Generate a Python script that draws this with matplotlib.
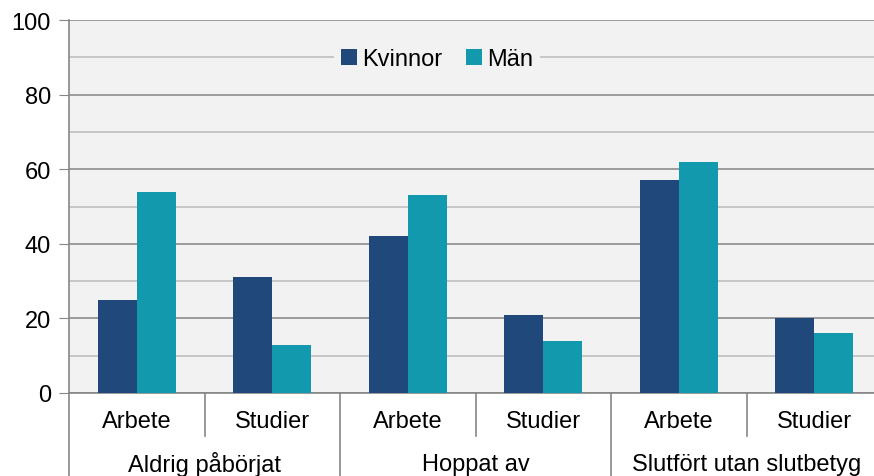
import numpy as np
import matplotlib
matplotlib.use("Agg")
import matplotlib.pyplot as plt
from matplotlib.transforms import blended_transform_factory

plt.rcParams['font.family'] = ['Liberation Sans', 'DejaVu Sans']

grupper = ["Aldrig påbörjat", "Hoppat av", "Slutfört utan slutbetyg"]
under = ["Arbete", "Studier"]
kvinnor = [25, 31, 42, 21, 57, 20]
man = [54, 13, 53, 14, 62, 16]

fs = 17
fig = plt.figure(figsize=(8.74, 4.77), dpi=100)
# axeln går lite utanför bildens högerkant
ax = fig.add_axes([69 / 874, 1 - 394 / 477, 813 / 874, 373 / 477])
ax.set_facecolor("#F2F2F2")

x = np.arange(len(kvinnor))
w = 0.288
ax.bar(x - w / 2, kvinnor, w, color="#20487A", label="Kvinnor", zorder=3)
ax.bar(x + w / 2, man, w, color="#1399AE", label="Män", zorder=3)

ax.set_xlim(-0.5, len(kvinnor) - 0.5)
ax.set_ylim(0, 100)
ax.set_yticks(range(0, 101, 20))
ax.set_yticks(range(10, 100, 20), minor=True)
ax.grid(axis="y", which="major", color="#8C8C8C", lw=1.2, zorder=1)
ax.grid(axis="y", which="minor", color="#BFBFBF", lw=1.2, zorder=1)
ax.tick_params(axis="y", which="major", length=7, color="#868686", labelsize=fs, pad=6)
ax.tick_params(axis="y", which="minor", length=0)
ax.set_xticks([])

for s in ["top", "right"]:
    ax.spines[s].set_visible(False)
for s in ["left", "bottom"]:
    ax.spines[s].set_color("#868686")
    ax.spines[s].set_linewidth(1.2)

# tvåradiga kategorietiketter
tr = blended_transform_factory(ax.transData, ax.transAxes)
y1 = -(437 - 394) / 373
ybot = -(477 - 394) / 373
for i, lab in enumerate(under * len(grupper)):
    ax.text(i, -(422 - 394) / 373, lab, transform=tr, ha="center", va="center", fontsize=fs)
for i in range(len(kvinnor) + 1):
    xb = i - 0.5
    if i % 2 == 0:
        ax.plot([xb, xb], [0, ybot - 0.05], transform=tr, color="#868686", lw=1.2, clip_on=False)
    else:
        ax.plot([xb, xb], [0, y1], transform=tr, color="#868686", lw=1.2, clip_on=False)
for j, g in enumerate(grupper):
    ax.text(2 * j + 0.5, -(465 - 394) / 373, g, transform=tr, ha="center", va="center", fontsize=fs)

leg = ax.legend(loc="center", bbox_to_anchor=(0.453, 0.895), ncol=2, frameon=True,
                fontsize=fs, handlelength=0.65, handleheight=0.65, handletextpad=0.25,
                columnspacing=1.0, borderpad=0.3, borderaxespad=0, fancybox=False)
leg.get_frame().set_facecolor("#F2F2F2")
leg.get_frame().set_edgecolor("none")
leg.get_frame().set_alpha(1)
leg.set_zorder(5)

fig.savefig("out.png", dpi=100)
